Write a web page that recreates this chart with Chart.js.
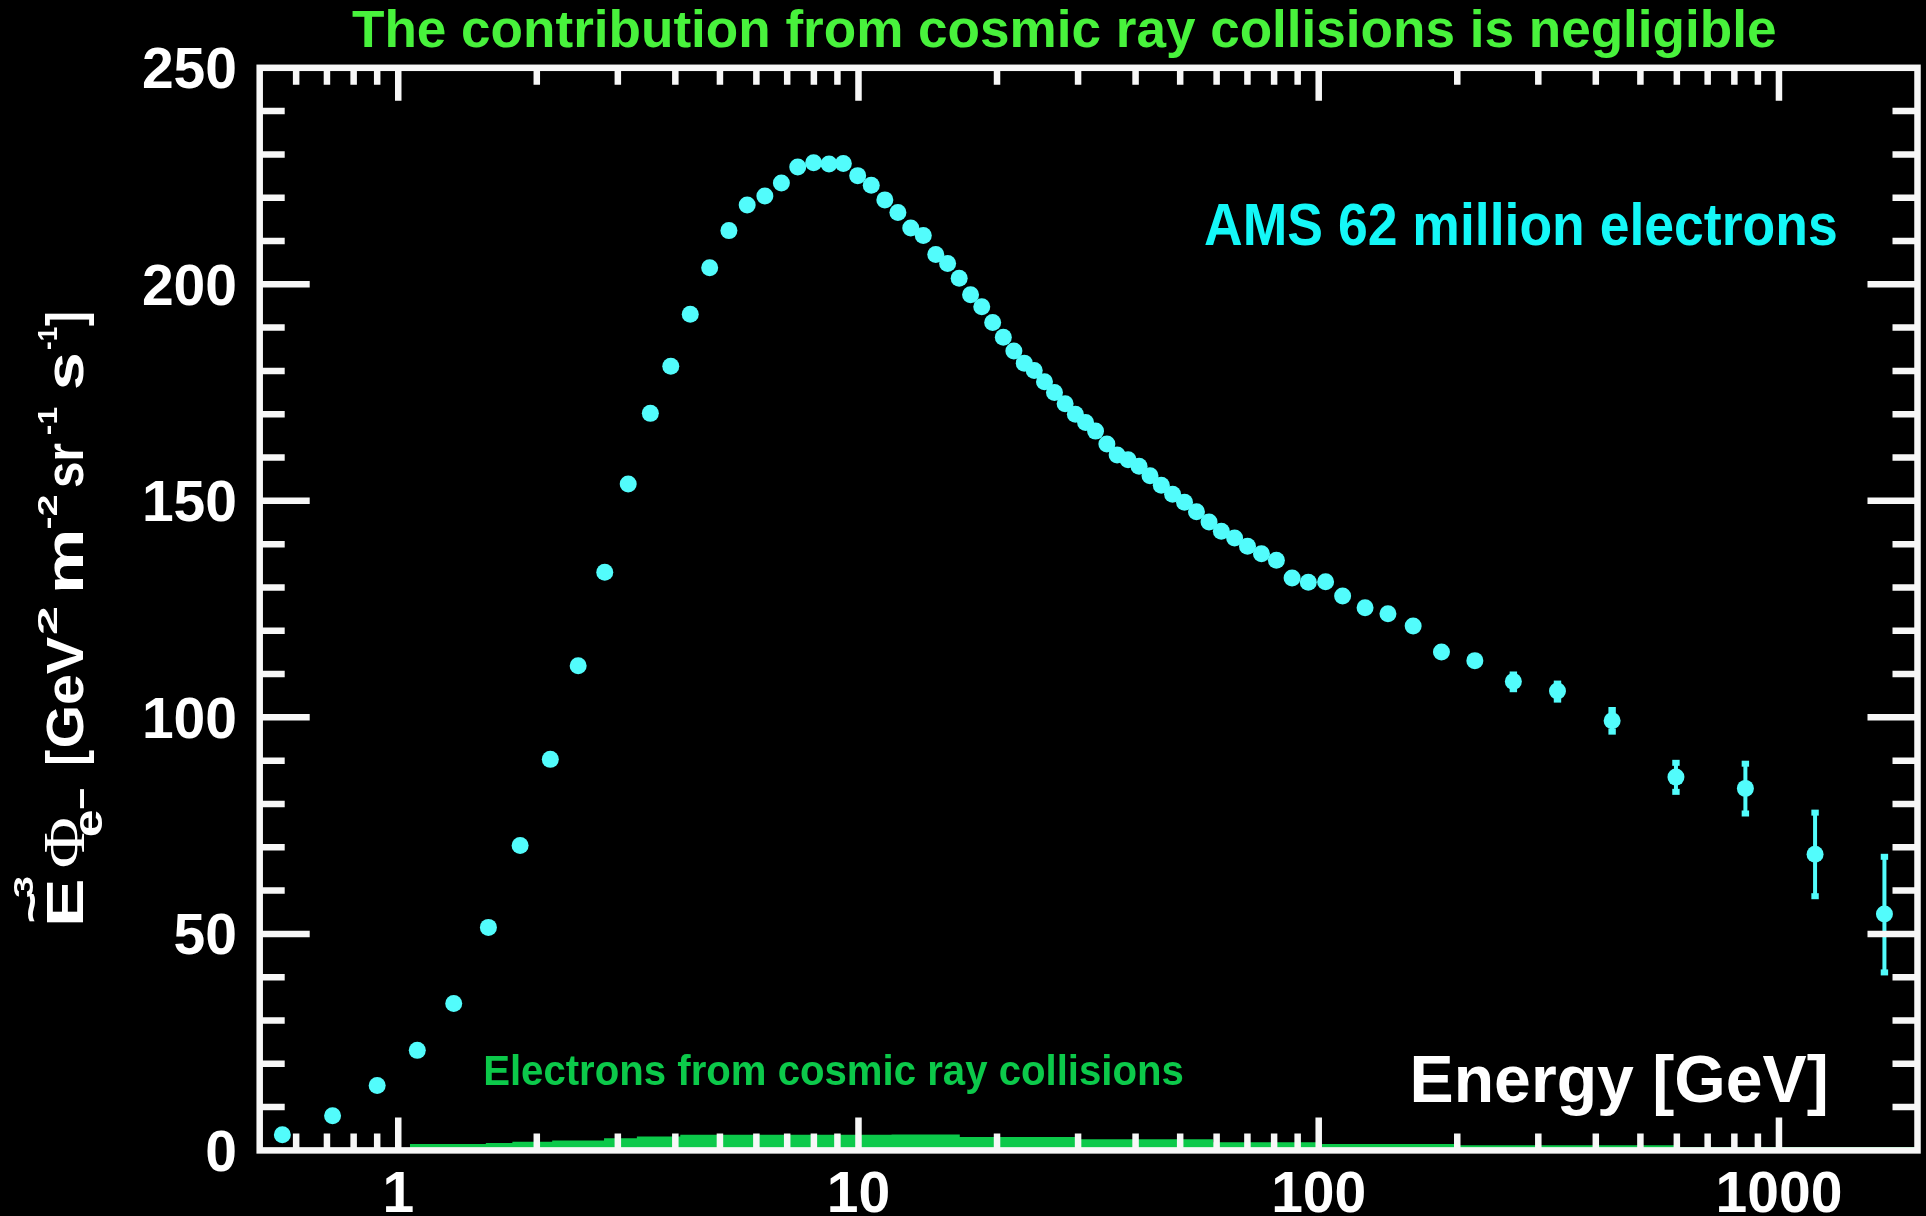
<!DOCTYPE html>
<html>
<head>
<meta charset="utf-8">
<script src="https://cdn.jsdelivr.net/npm/chart.js@4.4.0/dist/chart.umd.min.js"></script>
<style>
html,body{margin:0;padding:0;background:#000;overflow:hidden}
canvas{display:block}
</style>
</head>
<body>
<canvas id="c" width="1926" height="1216" style="width:1926px;height:1216px"></canvas>
<script>
// ---------------- DATA ----------------
const energyGeV = [0.56, 0.72, 0.90, 1.10, 1.32, 1.57, 1.84, 2.14, 2.46, 2.81,
  3.16, 3.53, 3.91, 4.31, 4.75, 5.23, 5.73, 6.26, 6.80, 7.38,
  7.99, 8.63, 9.27, 9.96, 10.66, 11.41, 12.18, 12.99, 13.83, 14.72,
  15.62, 16.55, 17.52, 18.53, 19.57, 20.64, 21.76, 22.92, 24.09, 25.36,
  26.66, 28.12, 29.60, 31.15, 32.74, 34.65, 36.48, 38.53, 40.70, 43.00,
  45.49, 48.14, 51.10, 54.25, 57.77, 61.44, 65.65, 70.03, 75.10, 80.92,
  87.53, 94.92, 103.5, 112.7, 126.1, 141.4, 160.4, 184.8, 218.4, 264.8,
  330.2, 434.0, 597.3, 845.4, 1198, 1695];
const electronFlux = [3.6, 8.0, 15.0, 23.1, 33.9, 51.5, 70.4, 90.3, 111.9, 133.5,
  153.9, 170.2, 181.1, 193.1, 203.8, 212.4, 218.3, 220.4, 223.4, 227.1,
  228.1, 227.8, 227.9, 225.1, 222.9, 219.5, 216.6, 213.0, 211.3, 206.9,
  204.8, 201.4, 197.6, 194.8, 191.2, 187.8, 184.6, 181.8, 180.1, 177.5,
  175.0, 172.4, 170.0, 168.1, 166.1, 163.1, 160.6, 159.5, 158.0, 155.8,
  153.6, 151.5, 149.7, 147.5, 145.1, 143.0, 141.4, 139.5, 137.8, 136.3,
  132.2, 131.2, 131.3, 128.0, 125.3, 123.9, 121.1, 115.1, 113.1, 108.3,
  106.1, 99.2, 86.2, 83.6, 68.4, 54.6];
// error bars for the last seven points (aligned with the end of the arrays above)
const errorLow  = [106.5, 104.1, 96.7, 82.8, 77.8, 58.7, 41.1];
const errorHigh = [109.9, 107.8, 101.7, 89.5, 89.3, 78.0, 67.8];

// electrons from cosmic ray collisions (stepped area)
const collisionEnergy = [1.06, 1.55, 1.77, 2.16, 2.8, 3.3, 4.1, 11.8, 16.6, 30, 59, 100, 200, 600, 2000];
const collisionFlux   = [1.5, 1.7, 2.0, 2.3, 2.8, 3.2, 3.6, 3.7, 3.1, 2.6, 1.9, 1.5, 1.2, 0.8, 0.8];

const xTickValues = [1, 10, 100, 1000];
const xTickLabels = ['1', '10', '100', '1000'];
const yTickValues = [0, 50, 100, 150, 200, 250];
const yTickLabels = ['0', '50', '100', '150', '200', '250'];

const titleText = 'The contribution from cosmic ray collisions is negligible';
const amsText = 'AMS 62 million electrons';
const collisionText = 'Electrons from cosmic ray collisions';
const xAxisText = 'Energy [GeV]';

// ---------------- STYLE ----------------
const WHITE = '#f7f7f7';
const CYAN_DOT = '#52fcfc';
const CYAN_TEXT = '#14f7f7';
const GREEN_TITLE = '#48f23c';
const GREEN_AREA = '#0cc94a';
const SANS = '"Liberation Sans", Arial, Helvetica, sans-serif';
const B = s => `bold ${s}px ${SANS}`;

function fitText(ctx, text, font, inkLeft, baseline, inkWidth, color) {
  ctx.save();
  ctx.font = font;
  ctx.textAlign = 'left';
  ctx.textBaseline = 'alphabetic';
  const m = ctx.measureText(text);
  const w = m.actualBoundingBoxRight + m.actualBoundingBoxLeft;
  const sc = inkWidth / w;
  ctx.translate(inkLeft + m.actualBoundingBoxLeft * sc, baseline);
  ctx.scale(sc, 1);
  ctx.fillStyle = color;
  ctx.fillText(text, 0, 0);
  ctx.restore();
}

const yLabelPieces = [
  {t:'E',   f:B(51), s:0,   e:43,  dy:0},
  {t:'~',   f:B(46), s:1,   e:30,  dy:-36},
  {t:'3',   f:B(27), s:25,  e:47,  dy:-50},
  {t:'Φ',   f:`60px "Liberation Serif", "DejaVu Serif", serif`, s:56, e:105, dy:1},
  {t:'e',   f:B(40), s:87,  e:112, dy:19},
  {t:'−',   f:B(36), s:114, e:134, dy:11},
  {t:'[',   f:B(51), s:159, e:173, dy:0},
  {t:'GeV', f:B(51), s:177, e:286, dy:0},
  {t:'2',   f:B(27), s:288, e:315, dy:-26},
  {t:'m',   f:B(51), s:333, e:391, dy:0},
  {t:'-2',  f:B(27), s:395, e:427, dy:-26},
  {t:'sr',  f:B(51), s:436, e:480, dy:0},
  {t:'-1',  f:B(27), s:489, e:516, dy:-26},
  {t:'s',   f:B(51), s:534, e:569, dy:0},
  {t:'-1',  f:B(27), s:574, e:596, dy:-26},
  {t:']',   f:B(51), s:597, e:610, dy:0}
];

function drawYLabel(ctx) {
  ctx.save();
  ctx.translate(83, 923);
  ctx.rotate(-Math.PI / 2);
  ctx.fillStyle = '#ffffff';
  ctx.textAlign = 'left';
  ctx.textBaseline = 'alphabetic';
  for (const p of yLabelPieces) {
    ctx.font = p.f;
    const m = ctx.measureText(p.t);
    const w = m.actualBoundingBoxRight + m.actualBoundingBoxLeft;
    const sc = (p.e - p.s) / w;
    ctx.save();
    ctx.translate(p.s + m.actualBoundingBoxLeft * sc, p.dy);
    ctx.scale(sc, 1);
    ctx.fillText(p.t, 0, 0);
    ctx.restore();
  }
  ctx.restore();
}

const errorBarPlugin = {
  id: 'errorBars',
  beforeDatasetDraw(chart, args) {
    if (args.index !== 0) return;
    const {ctx, scales: {x, y}} = chart;
    const off = energyGeV.length - errorLow.length;
    ctx.save();
    ctx.strokeStyle = CYAN_DOT;
    ctx.fillStyle = CYAN_DOT;
    ctx.lineWidth = 4;
    for (let i = 0; i < errorLow.length; i++) {
      const px = x.getPixelForValue(energyGeV[off + i]);
      const y1 = y.getPixelForValue(errorLow[i]);
      const y2 = y.getPixelForValue(errorHigh[i]);
      ctx.beginPath();
      ctx.moveTo(px, y1);
      ctx.lineTo(px, y2);
      ctx.stroke();
      ctx.fillRect(px - 3.7, y1 - 3, 7.4, 6);
      ctx.fillRect(px - 3.7, y2 - 3, 7.4, 6);
    }
    ctx.restore();
  }
};

const framePlugin = {
  id: 'frame',
  afterDatasetsDraw(chart) {
    const {ctx, chartArea: a, scales: {x, y}} = chart;
    ctx.save();
    ctx.strokeStyle = WHITE;
    ctx.lineCap = 'butt';
    ctx.lineWidth = 6.5;
    // y ticks (left & right), every 10, major every 50
    for (let v = 10; v < 250; v += 10) {
      const py = y.getPixelForValue(v);
      const len = (v % 50 === 0) ? 50 : 25;
      ctx.beginPath();
      ctx.moveTo(a.left, py); ctx.lineTo(a.left + len, py);
      ctx.moveTo(a.right, py); ctx.lineTo(a.right - len, py);
      ctx.stroke();
    }
    // x ticks (bottom & top)
    for (let dec = -1; dec <= 3; dec++) {
      for (let k = 1; k <= 9; k++) {
        const v = k * Math.pow(10, dec);
        if (v <= 0.5 || v >= 2000) continue;
        const px = x.getPixelForValue(v);
        const len = (k === 1) ? 33 : 17;
        ctx.beginPath();
        ctx.moveTo(px, a.bottom); ctx.lineTo(px, a.bottom - len);
        ctx.moveTo(px, a.top); ctx.lineTo(px, a.top + len);
        ctx.stroke();
      }
    }
    // frame
    ctx.strokeRect(a.left, a.top, a.right - a.left, a.bottom - a.top);

    // tick labels
    ctx.fillStyle = '#ffffff';
    ctx.font = B(57);
    ctx.textBaseline = 'alphabetic';
    ctx.textAlign = 'right';
    yTickValues.forEach((v, i) => {
      ctx.fillText(yTickLabels[i], 237, y.getPixelForValue(v) + 20.5);
    });
    ctx.textAlign = 'center';
    xTickValues.forEach((v, i) => {
      ctx.fillText(xTickLabels[i], x.getPixelForValue(v), 1211.5);
    });

    // texts
    fitText(ctx, titleText, B(51), 352, 46.7, 1423, GREEN_TITLE);
    fitText(ctx, amsText, B(59), 1205, 245, 631, CYAN_TEXT);
    fitText(ctx, collisionText, B(43), 485, 1085, 698, GREEN_AREA);
    fitText(ctx, xAxisText, B(67), 1413.5, 1101.7, 412, '#ffffff');
    drawYLabel(ctx);
    ctx.restore();
  }
};

new Chart(document.getElementById('c'), {
  type: 'scatter',
  data: {
    datasets: [
      {
        label: amsText,
        data: energyGeV.map((e, i) => ({x: e, y: electronFlux[i]})),
        backgroundColor: CYAN_DOT,
        pointBackgroundColor: CYAN_DOT,
        pointBorderWidth: 0,
        pointRadius: 8.5,
        showLine: false,
        order: 0,
        clip: false
      },
      {
        type: 'line',
        label: collisionText,
        data: collisionEnergy.map((e, i) => ({x: e, y: collisionFlux[i]})),
        stepped: true,
        fill: 'origin',
        backgroundColor: GREEN_AREA,
        borderWidth: 0,
        borderColor: GREEN_AREA,
        pointRadius: 0,
        order: 1
      }
    ]
  },
  options: {
    responsive: false,
    animation: false,
    devicePixelRatio: 1,
    layout: {padding: {left: 259.7, right: 1.5, top: 67.8, bottom: 65.6}},
    plugins: {legend: {display: false}, tooltip: {enabled: false}, title: {display: false}},
    scales: {
      x: {type: 'logarithmic', min: 0.5, max: 2000, display: false},
      y: {type: 'linear', min: 0, max: 250, display: false}
    }
  },
  plugins: [errorBarPlugin, framePlugin]
});
</script>
</body>
</html>
